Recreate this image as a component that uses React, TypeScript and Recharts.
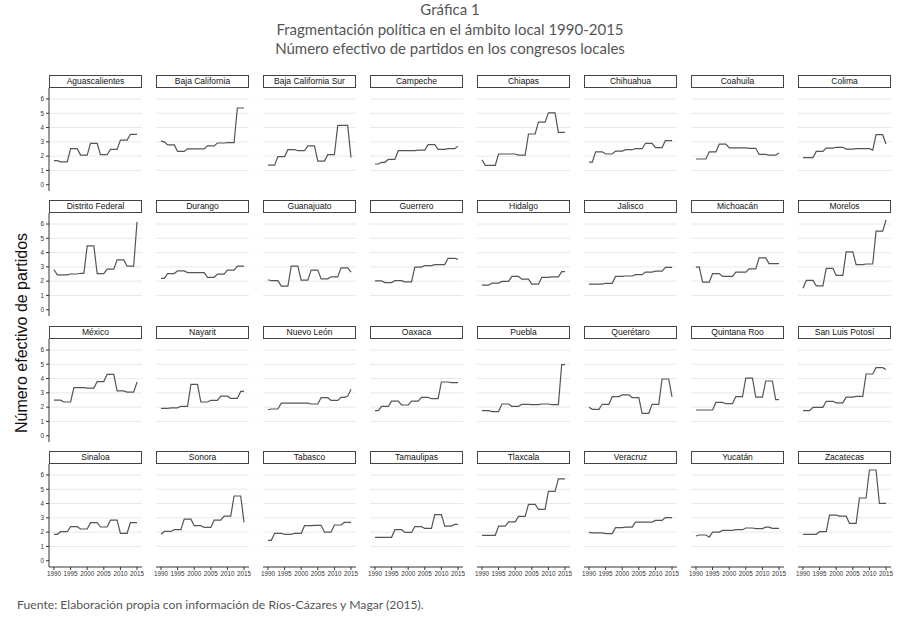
import { LineChart, Line, XAxis, YAxis, CartesianGrid } from "recharts"

// Número efectivo de partidos, 1990-2015 (one value per year)
const years = [
  1990, 1991, 1992, 1993, 1994, 1995, 1996, 1997, 1998, 1999, 2000, 2001, 2002,
  2003, 2004, 2005, 2006, 2007, 2008, 2009, 2010, 2011, 2012, 2013, 2014, 2015,
]
const xTicks = [1990, 1995, 2000, 2005, 2010, 2015]
const yTicks = [0, 1, 2, 3, 4, 5, 6]
const gridValues = [1, 2, 3, 4, 5, 6]

const aguascalientes = [1.68, 1.68, 1.6, 1.6, 1.6, 2.52, 2.52, 2.52, 2.07, 2.07, 2.07, 2.9, 2.9, 2.9, 2.1, 2.1, 2.1, 2.47, 2.47, 2.47, 3.12, 3.12, 3.12, 3.53, 3.53, 3.53]
const bajaCalifornia = [3.05, 3.0, 2.79, 2.79, 2.79, 2.33, 2.33, 2.33, 2.51, 2.51, 2.51, 2.51, 2.51, 2.51, 2.72, 2.72, 2.72, 2.92, 2.92, 2.92, 2.95, 2.95, 2.95, 5.37, 5.37, 5.37]
const bajaCaliforniaSur = [1.37, 1.37, 1.37, 1.97, 1.97, 1.97, 2.45, 2.45, 2.45, 2.38, 2.38, 2.38, 2.72, 2.72, 2.72, 1.65, 1.65, 1.65, 2.1, 2.1, 2.1, 4.15, 4.15, 4.15, 4.15, 1.9]
const campeche = [1.45, 1.45, 1.57, 1.57, 1.77, 1.77, 1.77, 2.38, 2.38, 2.38, 2.38, 2.38, 2.38, 2.42, 2.42, 2.42, 2.8, 2.8, 2.8, 2.47, 2.47, 2.47, 2.52, 2.52, 2.52, 2.7]
const chiapas = [1.74, 1.36, 1.36, 1.36, 1.36, 2.15, 2.15, 2.15, 2.15, 2.15, 2.15, 2.07, 2.07, 2.07, 3.55, 3.55, 3.55, 4.38, 4.38, 4.38, 5.03, 5.03, 5.03, 3.67, 3.67, 3.67]
const chihuahua = [1.58, 1.58, 2.3, 2.3, 2.3, 2.15, 2.15, 2.15, 2.35, 2.35, 2.35, 2.45, 2.45, 2.45, 2.52, 2.52, 2.52, 2.9, 2.9, 2.9, 2.6, 2.6, 2.6, 3.08, 3.08, 3.08]
const coahuila = [1.8, 1.8, 1.8, 1.8, 2.3, 2.3, 2.3, 2.84, 2.84, 2.84, 2.58, 2.58, 2.58, 2.58, 2.58, 2.58, 2.55, 2.55, 2.55, 2.12, 2.12, 2.12, 2.07, 2.07, 2.07, 2.22]
const colima = [1.9, 1.9, 1.9, 1.9, 2.33, 2.33, 2.33, 2.56, 2.56, 2.56, 2.62, 2.62, 2.62, 2.49, 2.49, 2.49, 2.53, 2.53, 2.53, 2.52, 2.52, 2.42, 3.5, 3.5, 3.5, 2.85]
const distritoFederal = [2.8, 2.44, 2.44, 2.44, 2.44, 2.5, 2.5, 2.5, 2.55, 2.55, 4.47, 4.47, 4.47, 2.53, 2.53, 2.53, 2.84, 2.84, 2.84, 3.49, 3.49, 3.49, 3.05, 3.05, 3.05, 6.15]
const durango = [2.2, 2.2, 2.53, 2.53, 2.53, 2.72, 2.72, 2.72, 2.6, 2.6, 2.6, 2.6, 2.6, 2.6, 2.27, 2.27, 2.27, 2.49, 2.49, 2.49, 2.77, 2.77, 2.77, 3.05, 3.05, 3.05]
const guanajuato = [2.1, 2.03, 2.03, 2.03, 1.65, 1.65, 1.65, 3.05, 3.05, 3.05, 2.07, 2.07, 2.07, 2.77, 2.77, 2.77, 2.16, 2.16, 2.16, 2.3, 2.3, 2.3, 2.93, 2.93, 2.93, 2.63]
const guerrero = [2.02, 2.02, 2.02, 1.9, 1.9, 1.9, 2.03, 2.03, 2.03, 1.95, 1.95, 1.95, 2.98, 2.98, 2.98, 3.09, 3.09, 3.09, 3.16, 3.16, 3.16, 3.16, 3.6, 3.6, 3.6, 3.52]
const hidalgo = [1.72, 1.72, 1.72, 1.86, 1.86, 1.86, 1.98, 1.98, 1.98, 2.33, 2.33, 2.33, 2.14, 2.14, 2.14, 1.79, 1.79, 1.79, 2.26, 2.26, 2.26, 2.3, 2.3, 2.3, 2.67, 2.67]
const jalisco = [1.79, 1.79, 1.79, 1.79, 1.79, 1.85, 1.85, 1.85, 2.33, 2.33, 2.33, 2.36, 2.36, 2.36, 2.45, 2.45, 2.45, 2.63, 2.63, 2.63, 2.7, 2.7, 2.7, 2.97, 2.97, 2.97]
const michoacan = [2.98, 2.98, 1.93, 1.93, 1.93, 2.53, 2.53, 2.53, 2.33, 2.33, 2.33, 2.33, 2.63, 2.63, 2.63, 2.63, 2.86, 2.86, 2.86, 3.63, 3.63, 3.63, 3.23, 3.23, 3.23, 3.23]
const morelos = [1.5, 2.05, 2.05, 2.05, 1.67, 1.67, 1.67, 2.9, 2.9, 2.9, 2.4, 2.4, 2.4, 4.05, 4.05, 4.05, 3.16, 3.16, 3.16, 3.2, 3.2, 3.2, 5.5, 5.5, 5.5, 6.28]
const mexico = [2.49, 2.49, 2.49, 2.36, 2.36, 2.36, 3.37, 3.37, 3.37, 3.37, 3.33, 3.33, 3.33, 3.79, 3.79, 3.79, 4.3, 4.3, 4.3, 3.14, 3.14, 3.14, 3.05, 3.05, 3.05, 3.76]
const nayarit = [1.92, 1.92, 1.92, 1.95, 1.95, 1.95, 2.06, 2.06, 2.06, 3.6, 3.6, 3.6, 2.36, 2.36, 2.36, 2.47, 2.47, 2.47, 2.77, 2.77, 2.77, 2.61, 2.61, 2.61, 3.1, 3.1]
const nuevoLeon = [1.82, 1.87, 1.87, 1.87, 2.28, 2.28, 2.28, 2.28, 2.28, 2.28, 2.28, 2.28, 2.28, 2.22, 2.22, 2.22, 2.66, 2.66, 2.66, 2.47, 2.47, 2.47, 2.68, 2.68, 2.77, 3.25]
const oaxaca = [1.75, 1.75, 2.06, 2.06, 2.06, 2.42, 2.42, 2.42, 2.15, 2.15, 2.15, 2.42, 2.42, 2.42, 2.68, 2.68, 2.68, 2.59, 2.59, 2.59, 3.76, 3.76, 3.76, 3.72, 3.72, 3.72]
const puebla = [1.75, 1.75, 1.75, 1.69, 1.69, 1.69, 2.22, 2.22, 2.22, 2.06, 2.06, 2.06, 2.2, 2.2, 2.2, 2.18, 2.18, 2.18, 2.22, 2.22, 2.22, 2.18, 2.18, 2.18, 4.97, 4.97]
const queretaro = [2.0, 1.85, 1.85, 1.85, 2.2, 2.2, 2.2, 2.74, 2.74, 2.74, 2.86, 2.86, 2.86, 2.67, 2.67, 2.67, 1.57, 1.57, 1.57, 2.2, 2.2, 2.2, 3.97, 3.97, 3.97, 2.72]
const quintanaRoo = [1.8, 1.8, 1.8, 1.8, 1.8, 1.8, 2.33, 2.33, 2.33, 2.24, 2.24, 2.24, 2.74, 2.74, 2.74, 4.03, 4.03, 4.03, 2.7, 2.7, 2.7, 3.83, 3.83, 3.83, 2.53, 2.53]
const sanLuisPotosi = [1.75, 1.75, 1.75, 1.99, 1.99, 1.99, 1.99, 2.41, 2.41, 2.41, 2.3, 2.3, 2.3, 2.7, 2.7, 2.7, 2.75, 2.75, 2.75, 4.32, 4.32, 4.32, 4.76, 4.76, 4.76, 4.64]
const sinaloa = [1.85, 1.85, 2.03, 2.03, 2.03, 2.38, 2.38, 2.38, 2.22, 2.22, 2.22, 2.66, 2.66, 2.66, 2.36, 2.36, 2.36, 2.84, 2.84, 2.84, 1.92, 1.92, 1.92, 2.66, 2.66, 2.66]
const sonora = [1.85, 2.05, 2.05, 2.05, 2.17, 2.17, 2.17, 2.91, 2.91, 2.91, 2.45, 2.45, 2.45, 2.33, 2.33, 2.33, 2.84, 2.84, 2.84, 3.12, 3.12, 3.12, 4.53, 4.53, 4.53, 2.68]
const tabasco = [1.43, 1.43, 1.92, 1.92, 1.92, 1.85, 1.85, 1.85, 1.92, 1.92, 1.92, 2.45, 2.45, 2.45, 2.48, 2.48, 2.48, 2.0, 2.0, 2.0, 2.5, 2.5, 2.5, 2.68, 2.68, 2.68]
const tamaulipas = [1.64, 1.64, 1.64, 1.64, 1.64, 1.64, 2.17, 2.17, 2.17, 1.98, 1.98, 1.98, 2.38, 2.38, 2.38, 2.26, 2.26, 2.26, 3.23, 3.23, 3.23, 2.42, 2.42, 2.42, 2.54, 2.54]
const tlaxcala = [1.78, 1.78, 1.78, 1.78, 1.78, 2.42, 2.42, 2.42, 2.72, 2.72, 2.72, 3.1, 3.1, 3.1, 3.95, 3.95, 3.95, 3.6, 3.6, 3.6, 4.85, 4.85, 4.85, 5.73, 5.73, 5.73]
const veracruz = [1.99, 1.95, 1.95, 1.95, 1.95, 1.9, 1.9, 1.9, 2.31, 2.31, 2.31, 2.35, 2.35, 2.35, 2.7, 2.7, 2.7, 2.7, 2.7, 2.7, 2.82, 2.82, 2.82, 3.02, 3.02, 3.02]
const yucatan = [1.73, 1.8, 1.8, 1.8, 1.65, 2.0, 2.0, 2.0, 2.12, 2.12, 2.12, 2.12, 2.17, 2.17, 2.17, 2.29, 2.29, 2.29, 2.25, 2.25, 2.25, 2.35, 2.35, 2.26, 2.26, 2.26]
const zacatecas = [1.85, 1.85, 1.85, 1.85, 1.85, 2.03, 2.03, 2.03, 3.19, 3.19, 3.19, 3.12, 3.12, 3.12, 2.61, 2.61, 2.61, 4.39, 4.39, 4.39, 6.35, 6.35, 6.35, 4.02, 4.02, 4.02]

const stateNames = [
  "Aguascalientes", "Baja California", "Baja California Sur", "Campeche",
  "Chiapas", "Chihuahua", "Coahuila", "Colima",
  "Distrito Federal", "Durango", "Guanajuato", "Guerrero",
  "Hidalgo", "Jalisco", "Michoacán", "Morelos",
  "México", "Nayarit", "Nuevo León", "Oaxaca",
  "Puebla", "Querétaro", "Quintana Roo", "San Luis Potosí",
  "Sinaloa", "Sonora", "Tabasco", "Tamaulipas",
  "Tlaxcala", "Veracruz", "Yucatán", "Zacatecas",
]
const stateValues = [
  aguascalientes, bajaCalifornia, bajaCaliforniaSur, campeche,
  chiapas, chihuahua, coahuila, colima,
  distritoFederal, durango, guanajuato, guerrero,
  hidalgo, jalisco, michoacan, morelos,
  mexico, nayarit, nuevoLeon, oaxaca,
  puebla, queretaro, quintanaRoo, sanLuisPotosi,
  sinaloa, sonora, tabasco, tamaulipas,
  tlaxcala, veracruz, yucatan, zacatecas,
]

const PANEL_W = 93
const PLOT_H = 103
const STRIP_H = 13
const Y_AXIS_W = 16
const X_AXIS_H = 16
const PAD = 8 // room for the outer x tick labels
const COL_STEP = 107
const ROW_STEP = 125.3
const axisFont = "'Liberation Sans', Arial, sans-serif"

const Panel = ({ name, values, col, row }: { name: string; values: number[]; col: number; row: number }) => {
  const hasY = col === 0
  const hasX = row === 3
  const left = 49 + COL_STEP * col
  const top = 75 + ROW_STEP * row
  const padL = hasY ? Y_AXIS_W : hasX ? PAD : 0
  const padR = hasX ? PAD : 0
  const data = years.map((year, i) => ({ year, nep: values[i] }))

  return (
    <div style={{ position: "absolute", left: left - padL, top }}>
      <div
        style={{
          marginLeft: padL,
          width: PANEL_W,
          height: STRIP_H,
          boxSizing: "border-box",
          border: "1px solid #444",
          background: "#fff",
          fontFamily: axisFont,
          fontSize: 8.5,
          lineHeight: "11px",
          textAlign: "center",
          color: "#111",
          whiteSpace: "nowrap",
        }}
      >
        {name}
      </div>
      <LineChart
        width={PANEL_W + padL + padR}
        height={PLOT_H + (hasX ? X_AXIS_H : 0)}
        data={data}
        margin={{ top: 0, right: padR, bottom: 0, left: hasY ? 0 : padL }}
      >
        <CartesianGrid vertical={false} horizontalValues={gridValues} stroke="#e8e8e8" />
        <XAxis
          dataKey="year"
          type="number"
          domain={[1988.5, 2016.5]}
          ticks={xTicks}
          interval={0}
          hide={!hasX}
          height={X_AXIS_H}
          tickSize={3}
          stroke="#333"
          tick={{ fontSize: 6.3, fill: "#333", fontFamily: axisFont }}
        />
        <YAxis
          type="number"
          domain={[-0.44, 6.77]}
          ticks={yTicks}
          interval={0}
          hide={!hasY}
          width={Y_AXIS_W}
          tickSize={3}
          stroke="#333"
          tick={{ fontSize: 6.3, fill: "#333", fontFamily: axisFont }}
        />
        <Line
          type="linear"
          dataKey="nep"
          stroke="#555"
          strokeWidth={1.2}
          dot={false}
          isAnimationActive={false}
        />
      </LineChart>
    </div>
  )
}

const App = () => {
  return (
    <div style={{ position: "absolute", left: 0, top: 0, width: 900, height: 622, background: "#fff", overflow: "hidden" }}>
      <div style={{ position: "absolute", left: 0, top: 0, width: 900, textAlign: "center", fontFamily: "Lato, sans-serif", fontSize: 15, color: "#555", lineHeight: "19.5px" }}>
        <div>Gráfica 1</div>
        <div>Fragmentación política en el ámbito local 1990-2015</div>
        <div>Número efectivo de partidos en los congresos locales</div>
      </div>
      <div
        style={{
          position: "absolute",
          left: 22,
          top: 333,
          transform: "translate(-50%, -50%) rotate(-90deg)",
          fontFamily: axisFont,
          fontSize: 16,
          color: "#111",
          whiteSpace: "nowrap",
        }}
      >
        Número efectivo de partidos
      </div>
      {stateNames.map((name, i) => (
        <Panel key={name} name={name} values={stateValues[i]} col={i % 8} row={Math.floor(i / 8)} />
      ))}
      <div style={{ position: "absolute", left: 17, top: 597, fontFamily: "Lato, sans-serif", fontSize: 12.2, color: "#555" }}>
        Fuente: Elaboración propia con información de Ríos-Cázares y Magar (2015).
      </div>
    </div>
  )
}

export default App
